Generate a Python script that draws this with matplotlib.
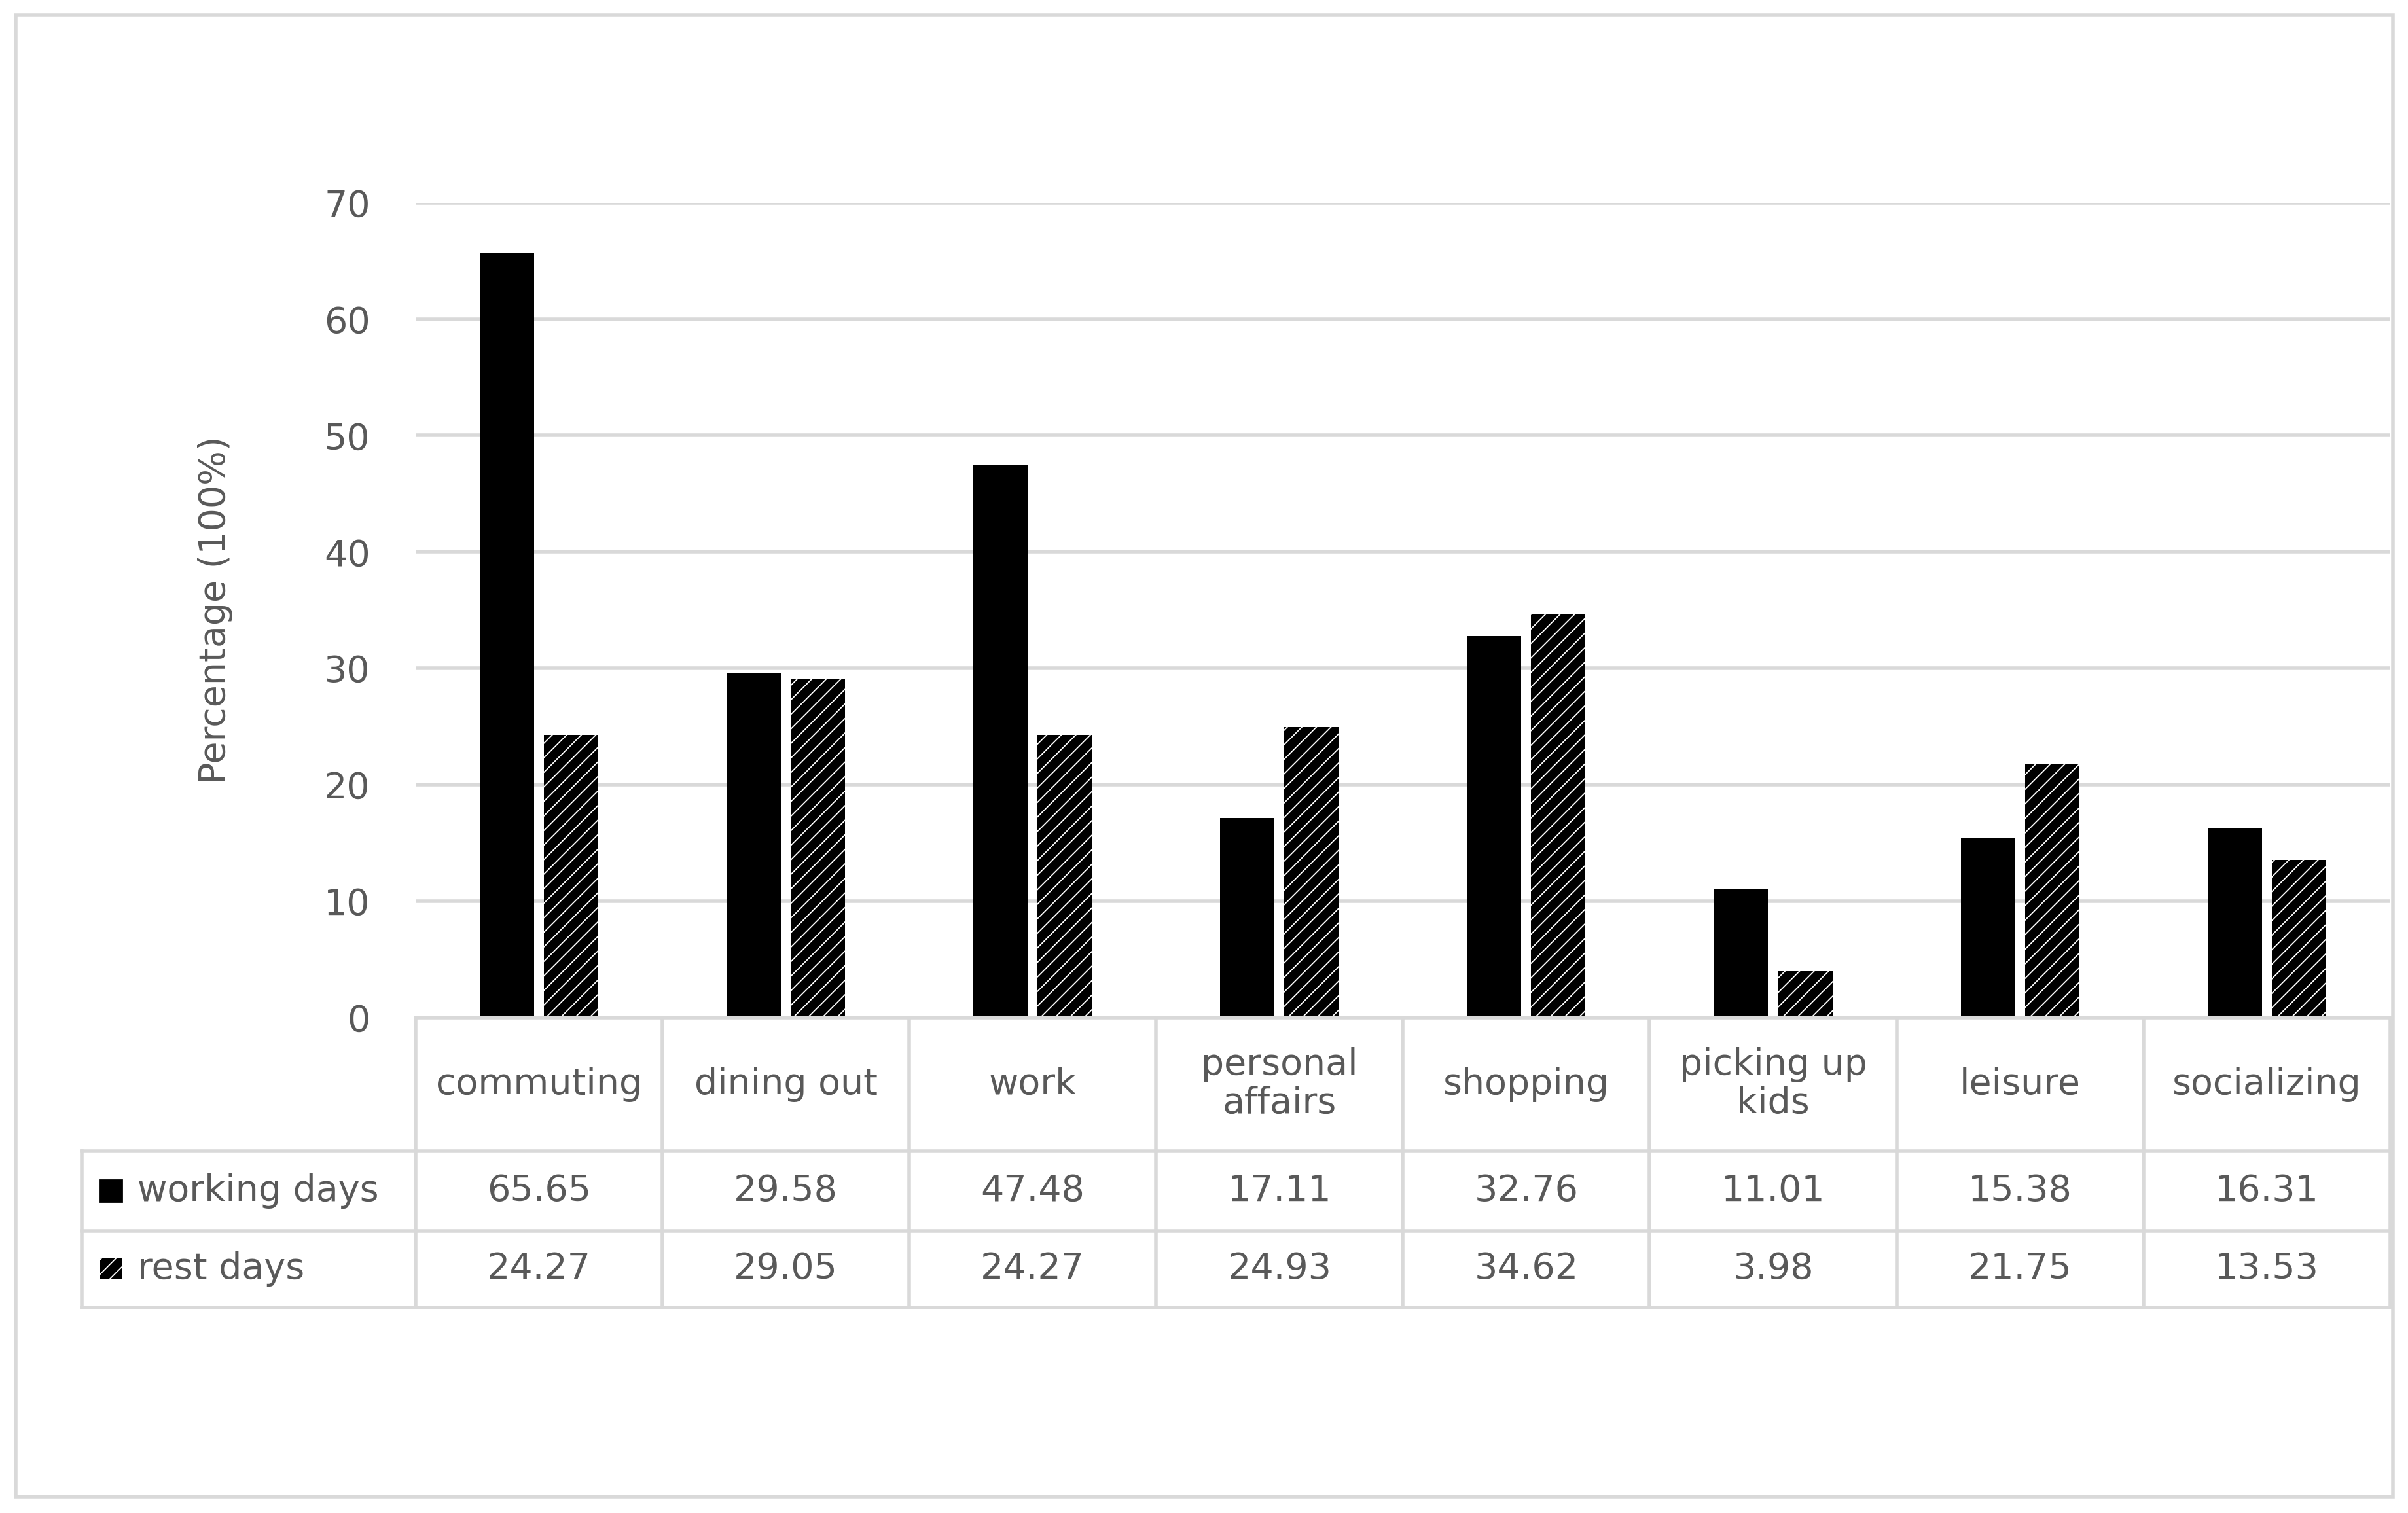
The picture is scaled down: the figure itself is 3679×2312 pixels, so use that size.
import matplotlib.pyplot as plt
from matplotlib.lines import Line2D
from matplotlib.patches import Rectangle

categories = ["commuting", "dining out", "work", "personal\naffairs", "shopping",
              "picking up\nkids", "leisure", "socializing"]
working_days = [65.65, 29.58, 47.48, 17.11, 32.76, 11.01, 15.38, 16.31]
rest_days = [24.27, 29.05, 24.27, 24.93, 34.62, 3.98, 21.75, 13.53]
series_names = ["working days", "rest days"]

TXT = "#595959"
GRID = "#d9d9d9"
FS = 20
plt.rcParams["hatch.linewidth"] = 5

fig = plt.figure(figsize=(18.4, 11.56), dpi=200)
xl, xr, yb, yt = 0.1726, 0.9923, 0.3276, 0.866
ax = fig.add_axes([xl, yb, xr - xl, yt - yb])
n = len(categories)
x = list(range(n))
w = 0.22
ax.bar([i - 0.13 for i in x], working_days, w, color="black")
ax.bar([i + 0.13 for i in x], rest_days, w, color="white", edgecolor="black",
       linewidth=0, hatch="///")
ax.set_xlim(-0.5, n - 0.5)
ax.set_ylim(0, 70)
ax.set_yticks(range(0, 71, 10))
ax.yaxis.grid(True, color=GRID, linewidth=2)
ax.set_axisbelow(True)
for s in ["top", "right", "left"]:
    ax.spines[s].set_visible(False)
ax.spines["bottom"].set_color(GRID)
ax.spines["bottom"].set_linewidth(2)
ax.set_xticks([])
ax.tick_params(axis="y", length=0, labelsize=FS, labelcolor=TXT, pad=25)
ax.set_ylabel("Percentage (100%)", fontsize=FS, color=TXT, labelpad=50)

# data table
tl = 0.0339
rows = [yb, 0.2394, 0.1866, 0.1359]
def ln(xs, ys):
    fig.add_artist(Line2D(xs, ys, color=GRID, linewidth=2, transform=fig.transFigure))
colx = [xl + i / n * (xr - xl) for i in range(n + 1)]
for cx in colx:
    ln([cx, cx], [rows[0] if cx != xl else rows[0], rows[3]])
ln([tl, tl], [rows[1], rows[3]])
for r in rows[1:]:
    ln([tl, xr], [r, r])
for i, c in enumerate(categories):
    cx = (colx[i] + colx[i + 1]) / 2
    fig.text(cx, (rows[0] + rows[1]) / 2, c, ha="center", va="center",
             fontsize=FS, color=TXT, linespacing=1.1)
    fig.text(cx, (rows[1] + rows[2]) / 2, f"{working_days[i]:.2f}", ha="center",
             va="center", fontsize=FS, color=TXT)
    fig.text(cx, (rows[2] + rows[3]) / 2, f"{rest_days[i]:.2f}", ha="center",
             va="center", fontsize=FS, color=TXT)
kw, kh = 0.009, 0.014
for j, name in enumerate(series_names):
    yc = (rows[1 + j] + rows[2 + j]) / 2
    if j == 0:
        p = Rectangle((0.0415, yc - kh / 2), kw, kh, color="black", transform=fig.transFigure)
    else:
        p = Rectangle((0.0415, yc - kh / 2), kw, kh, facecolor="white", edgecolor="black",
                      linewidth=0, hatch="///", transform=fig.transFigure)
    fig.add_artist(p)
    fig.text(0.057, yc, name, ha="left", va="center", fontsize=FS, color=TXT)

# outer border
fig.add_artist(Rectangle((0.0064, 0.011), 0.9872, 0.979, fill=False, edgecolor=GRID,
                         linewidth=2, transform=fig.transFigure))
fig.savefig("out.png", dpi=200, facecolor="white")
